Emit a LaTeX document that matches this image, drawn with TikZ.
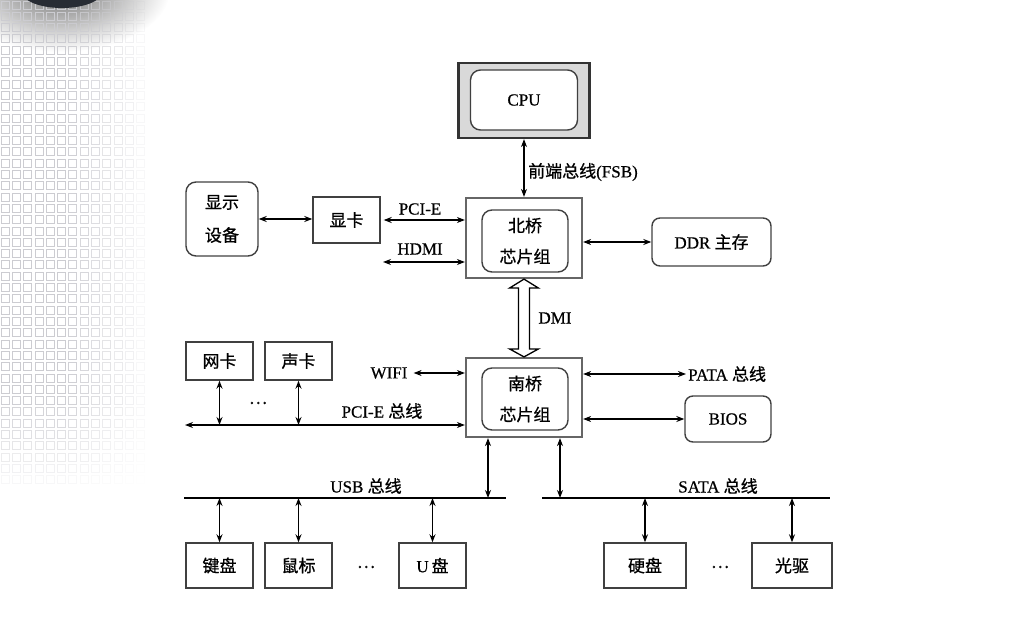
\documentclass[tikz,border=0pt]{standalone}
\usepackage{fontspec}
\setmainfont{Liberation Serif}[FakeBold=0.6]
\newfontfamily\cnfont{Noto Sans CJK SC}[FakeBold=0.8]
\newcommand{\cn}[1]{{\cnfont #1}}
\usetikzlibrary{arrows.meta,calc}
\definecolor{blob}{RGB}{40,44,52}
\tikzset{
    plain-box/.style = {draw=black!75, line width=1.4pt, rectangle, inner sep=0pt, font=\fontsize{17}{20}\selectfont},
    round-box/.style = {plain-box, rounded corners=8pt},
    chip-box/.style = {draw=black!60, line width=2.2pt, rectangle, inner sep=0pt},
    link/.style = {line width=1.3pt, {Stealth[length=8pt,width=6pt]}-{Stealth[length=8pt,width=6pt]}},
    bus/.style = {line width=1.5pt},
    lbl/.style = {font=\fontsize{17}{20}\selectfont, inner sep=0pt},
}

\begin{document}
\begin{tikzpicture}[x=1pt,y=-1pt]
\useasboundingbox (0,0) rectangle (1017,636);
% backdrop
\shade[inner color=black!55, outer color=white] (60,-10) ellipse (110 and 62);
\foreach \i in {0,...,12}
  \foreach \j in {0,...,42} {
    \pgfmathsetmacro\op{min(1,(150-11.3*\i)/90)*min(1,(490-11.3*\j)/100)}
    \draw[blue!10!black!20, opacity=\op, line width=0.8pt] (11.3*\i+1,11.3*\j+1) rectangle ++(8,8);
  }
\fill[blob] (62,-8) ellipse (40 and 16);

% chipsets
\node[chip-box, fill=black!15, draw=black!80, minimum width=131, minimum height=75] (cpu) at (524,100.5) {};
\node[round-box, fill=white, rounded corners=10pt, minimum width=107, minimum height=60] (cpuin) at (524,100) {CPU};
\node[chip-box, minimum width=116, minimum height=80] (nb) at (524,238) {};
\node[round-box, rounded corners=10pt, minimum width=86, minimum height=62, align=center, font=\fontsize{17}{31}\selectfont] (nbin) at (525,241) {\cn{北桥}\\\cn{芯片组}};
\node[chip-box, minimum width=116, minimum height=79] (sb) at (524,397.5) {};
\node[round-box, rounded corners=10pt, minimum width=86, minimum height=62, align=center, font=\fontsize{17}{31}\selectfont] (sbin) at (525,399) {\cn{南桥}\\\cn{芯片组}};

% devices
\node[round-box, rounded corners=10pt, minimum width=72, minimum height=74, align=center, font=\fontsize{17}{33}\selectfont] (disp) at (222,219) {\cn{显示}\\\cn{设备}};
\node[plain-box, minimum width=67, minimum height=46] (gpu) at (346.5,220) {\cn{显卡}};
\node[round-box, minimum width=119, minimum height=48] (ddr) at (711.5,242) {DDR \cn{主存}};
\node[round-box, minimum width=86, minimum height=46] (bios) at (728,419) {BIOS};
\node[plain-box, minimum width=67, minimum height=38] (nic) at (219.5,361) {\cn{网卡}};
\node[plain-box, minimum width=67, minimum height=38] (sound) at (298.5,361) {\cn{声卡}};
\node[plain-box, minimum width=67, minimum height=45] (kbd) at (219.5,565.5) {\cn{键盘}};
\node[plain-box, minimum width=67, minimum height=45] (mouse) at (298.5,565.5) {\cn{鼠标}};
\node[plain-box, minimum width=67, minimum height=45] (udisk) at (432.5,565.5) {U\,\cn{盘}};
\node[plain-box, minimum width=82, minimum height=45] (hdd) at (645,565.5) {\cn{硬盘}};
\node[plain-box, minimum width=80, minimum height=45] (odd) at (792,565.5) {\cn{光驱}};

% labels
\node[lbl, anchor=west] (fsb) at (528,172) {\cn{前端总线}(FSB)};
\node[lbl] (pcie) at (420,209) {PCI-E};
\node[lbl] (hdmi) at (420,249) {HDMI};
\node[lbl] (dmi) at (555,318) {DMI};
\node[lbl] (wifi) at (389,373) {WIFI};
\node[lbl, anchor=west] (pata) at (688,374) {PATA \cn{总线}};
\node[lbl] (pcibus) at (382,411) {PCI-E \cn{总线}};
\node[lbl] (usb) at (366,486) {USB \cn{总线}};
\node[lbl] (sata) at (718,486) {SATA \cn{总线}};
\node[lbl] (dots1) at (258,403) {\cn{⋯}};
\node[lbl] (dots2) at (366,567) {\cn{⋯}};
\node[lbl] (dots3) at (720,567) {\cn{⋯}};

% links
\draw[link] (cpu.south) -- (nb.north);
\draw[link] (disp.east) -- (gpu.west |- disp.east);
\draw[link, shorten <=3pt] (gpu.east) -- (nb.west |- gpu.east);
\coordinate (hdmil) at (383,262);
\draw[link] (hdmil) -- (nb.west |- hdmil);
\draw[link] (nb.east |- ddr.west) -- (ddr.west);
\draw[line width=1.3pt, fill=white] (nb.south) -- ++(14.5,9) -- ++(-9,0) -- ($(sb.north)+(5.5,-8)$) -- ++(9,0)
    -- (sb.north) -- ++(-14.5,-8) -- ++(9,0) -- ($(nb.south)+(-5.5,9)$) -- ++(-9,0) -- cycle;
\draw[link, shorten <=6pt] (wifi.east) -- (sb.west |- wifi.east);
\draw[link, shorten >=2pt] (sb.east |- pata.west) -- (pata.west);
\draw[link] (sb.east |- bios.west) -- (bios.west);
\coordinate (pcil) at (185,425);
\draw[link] (pcil) -- (sb.west |- pcil);
\foreach \n in {nic,sound}
  \draw[link] (\n.south) -- (\n.south |- pcil);

% buses
\coordinate (usbl) at (184,498);
\coordinate (usbr) at (506,498);
\coordinate (satal) at (542,498);
\coordinate (satar) at (830,498);
\draw[bus] (usbl) -- (usbr);
\draw[bus] (satal) -- (satar);
\draw[link] ([xshift=-36]sb.south) -- ([xshift=-36]sb.south |- usbl);
\draw[link] ([xshift=36]sb.south) -- ([xshift=36]sb.south |- satal);
\foreach \n in {kbd,mouse,udisk}
  \draw[link] (\n.north |- usbl) -- (\n.north);
\foreach \n in {hdd,odd}
  \draw[link] (\n.north |- satal) -- (\n.north);
\end{tikzpicture}
\end{document}
